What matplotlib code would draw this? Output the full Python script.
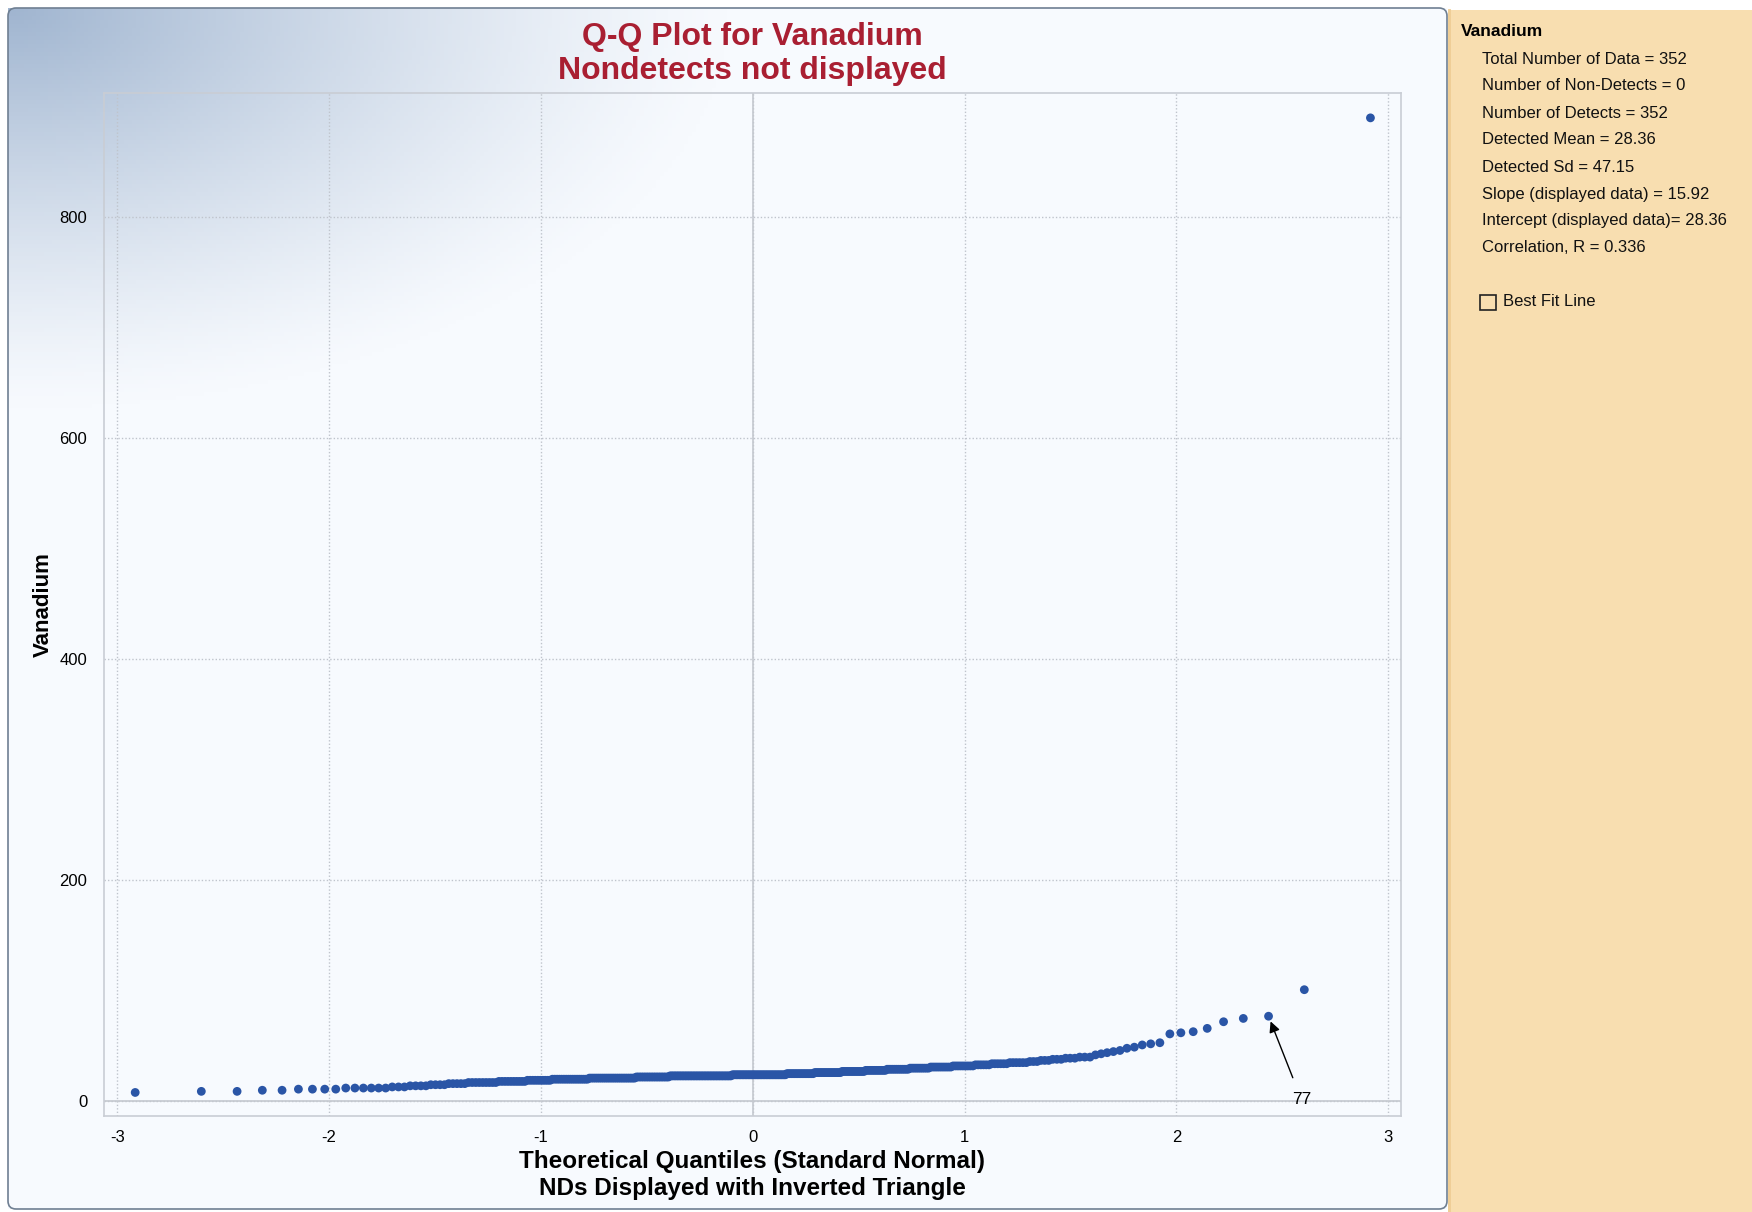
import numpy as np
import matplotlib
matplotlib.use('Agg')
import matplotlib.pyplot as plt
from matplotlib.patches import Rectangle, FancyBboxPatch
from statistics import NormalDist

plt.rcParams['font.family'] = ['Liberation Sans', 'DejaVu Sans']

# Vanadium concentrations as (value, how many times)
v_values = [8, 9, 10, 11, 12, 13, 14, 15, 16, 17, 18, 19, 20, 21, 22, 23, 24, 25,
            26, 27, 28, 29, 30, 31, 32, 33, 34, 35, 36, 37, 38, 39, 40, 42, 43,
            44, 45, 46, 48, 49, 51, 52, 53, 61, 62, 63, 66, 72, 75, 77, 101, 890]
v_counts = [1, 2, 2, 4, 6, 3, 4, 4, 5, 9, 10, 10, 17, 25, 20, 40, 36, 18,
            17, 14, 12, 12, 10, 10, 9, 6, 6, 6, 3, 3, 3, 3, 3, 1, 1,
            1, 1, 1, 1, 1, 1, 1, 1, 1, 1, 1, 1, 1, 1, 1, 1, 1]
labelled_value = 77

stats_title = 'Vanadium'
stats_lines = ['Total Number of Data = 352',
               'Number of Non-Detects = 0',
               'Number of Detects = 352',
               'Detected Mean = 28.36',
               'Detected Sd = 47.15',
               'Slope (displayed data) = 15.92',
               'Intercept (displayed data)= 28.36',
               'Correlation, R = 0.336']
x_ticks = [-3, -2, -1, 0, 1, 2, 3]
y_ticks = [0, 200, 400, 600, 800]

# sorted data + theoretical normal quantiles (Blom positions)
vals = np.repeat(v_values, v_counts).astype(float)
n = len(vals)
nd = NormalDist()
quant = np.array([nd.inv_cdf((i - 0.375) / (n + 0.25)) for i in range(1, n + 1)])

W, H = 1752, 1212
fig = plt.figure(figsize=(W / 100, H / 100), dpi=100)
fig.patch.set_facecolor('white')

# background layer in pixel coordinates
bg = fig.add_axes([0, 0, 1, 1], zorder=0)
bg.set_xlim(0, W)
bg.set_ylim(H, 0)
bg.axis('off')

# bluish gradient from the top-left corner of the chart panel
gx, gy = np.meshgrid(np.linspace(0, 1440, 360), np.linspace(0, 1200, 300))
r = np.sqrt((gx / 720.0) ** 2 + (gy / 400.0) ** 2)
w = np.clip(1 - r, 0, 1) ** 1.25
light = np.array([247, 250, 254]) / 255.0
blue = np.array([160, 181, 208]) / 255.0
img = light[None, None, :] * (1 - w[..., None]) + blue[None, None, :] * w[..., None]
bg.imshow(img, extent=(8, 1447, 1209, 8), aspect='auto', zorder=0)
bg.add_patch(FancyBboxPatch((8, 8), 1439, 1201, boxstyle='round,pad=0,rounding_size=8',
                            fill=False, edgecolor='#6f7f92', lw=1.2, zorder=2))

# beige stats panel on the right
bg.add_patch(Rectangle((1448, 10), W - 1448, H - 10, facecolor='#F8DEB0', edgecolor='none', zorder=1))
bg.plot([1449, 1449], [10, H], color='#EFCD95', lw=2, zorder=2)
bg.text(1461, 32, stats_title, fontsize=12.5, fontweight='bold', va='center', ha='left')
for k, line in enumerate(stats_lines):
    bg.text(1482, 59 + k * 27, line, fontsize=12, va='center', ha='left', color='#111111')
bg.add_patch(Rectangle((1480, 295), 16, 15, facecolor='none', edgecolor='#222222', lw=1.2, zorder=3))
bg.text(1503, 302, 'Best Fit Line', fontsize=12, va='center', ha='left', color='#111111')

# main Q-Q axes
ax = fig.add_axes([104 / W, 1 - 1116 / H, (1401 - 104) / W, (1116 - 93) / H], zorder=1)
ax.set_facecolor('none')
ax.set_xlim(-3.063, 3.06)
ax.set_ylim(-13.3, 912.5)
ax.set_xticks(x_ticks)
ax.set_xticklabels([str(t) for t in x_ticks])
ax.set_yticks(y_ticks)
ax.tick_params(length=0, labelsize=12, pad=12)
ax.tick_params(axis='x', pad=10)
for sp in ax.spines.values():
    sp.set_color('#c9cdd4')
    sp.set_linewidth(1.2)
ax.grid(True, linestyle=(0, (1, 1.5)), color='#bfc4cc', linewidth=1)
ax.axvline(0, color='#c4c8cf', lw=1.2)
ax.axhline(0, color='#c4c8cf', lw=1.2)
ax.set_axisbelow(True)

ax.scatter(quant, vals, s=40, color='#2A55A6', edgecolors='none', zorder=3)

# arrow pointing at the labelled point
idx = np.where(vals == labelled_value)[0][0]
ax.annotate(str(labelled_value), xy=(quant[idx], vals[idx]), xytext=(2.59, 1.5),
            fontsize=12.5, ha='center', va='center', zorder=4,
            arrowprops=dict(arrowstyle='-|>', color='black', lw=1, mutation_scale=16,
                            shrinkA=9, shrinkB=4))

ax.set_title('Q-Q Plot for Vanadium\nNondetects not displayed', fontsize=23,
             fontweight='bold', color='#A91F32', pad=10, linespacing=1.2)
ax.set_xlabel('Theoretical Quantiles (Standard Normal)\nNDs Displayed with Inverted Triangle',
              fontsize=17.5, fontweight='bold', labelpad=4, linespacing=1.2)
ax.set_ylabel('Vanadium', fontsize=16, fontweight='bold', labelpad=4)

fig.savefig('out.png', dpi=100)
